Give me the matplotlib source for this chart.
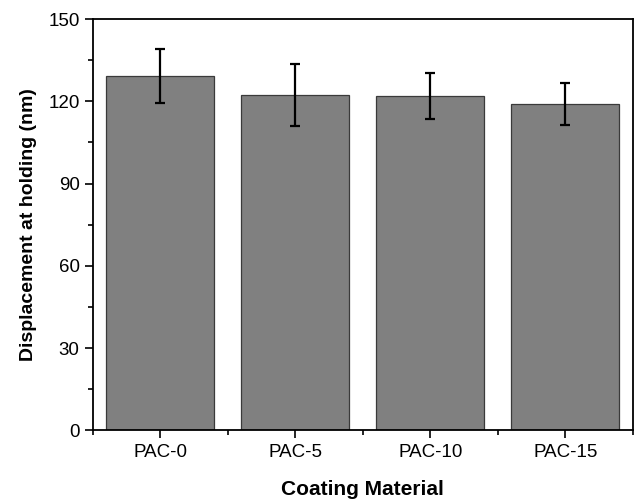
import numpy as np
import matplotlib
matplotlib.use("Agg")
from matplotlib import pyplot as plt
from matplotlib.ticker import MultipleLocator

# data
materials = ["PAC-0", "PAC-5", "PAC-10", "PAC-15"]
displacement = [129.2, 122.3, 121.9, 119.0]
errors = [10.0, 11.3, 8.4, 7.6]

plt.rcParams["font.family"] = ["Liberation Sans", "DejaVu Sans"]

fig = plt.figure(figsize=(6.36, 5.01), dpi=100)
ax = fig.add_axes([0.146, 0.141, 0.849, 0.821])

x = np.arange(len(materials))
ax.bar(x, displacement, width=0.8, color="#808080", edgecolor="#3a3a3a", linewidth=0.9,
       yerr=errors, error_kw=dict(ecolor="black", elinewidth=1.6, capsize=3.6, capthick=1.6))

ax.set_xlim(-0.5, 3.5)
ax.set_ylim(0, 150)
ax.set_xticks(x)
ax.set_xticklabels(materials)
ax.xaxis.set_minor_locator(MultipleLocator(1, offset=0.5))
ax.yaxis.set_major_locator(MultipleLocator(30))
ax.yaxis.set_minor_locator(MultipleLocator(15))

ax.tick_params(which="major", direction="out", length=6, width=1.2, labelsize=13.5, top=False, right=False)
ax.tick_params(which="minor", direction="out", length=3.5, width=1.2, top=False, right=False)
for s in ax.spines.values():
    s.set_linewidth(1.3)

ax.set_xlabel("Coating Material", fontsize=15, fontweight="bold", labelpad=14)
ax.set_ylabel("Displacement at holding (nm)", fontsize=14, fontweight="bold", labelpad=8)

fig.savefig("out.png", dpi=100)
